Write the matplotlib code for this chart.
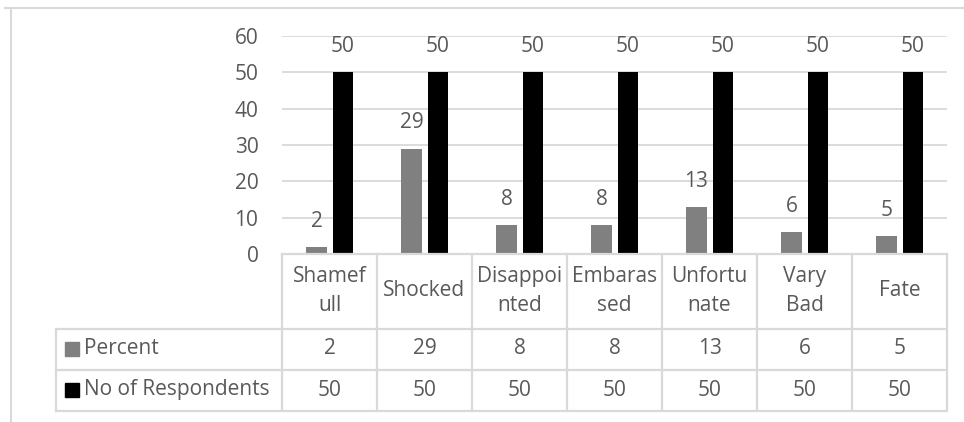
import numpy as np
import matplotlib
matplotlib.use("Agg")
from matplotlib import pyplot as plt
from matplotlib.lines import Line2D
from matplotlib.patches import Rectangle

plt.rcParams['font.family'] = ['Open Sans', 'DejaVu Sans']
plt.rcParams['font.size'] = 15

categories = ["Shamef\null", "Shocked", "Disappoi\nnted", "Embaras\nsed",
              "Unfortu\nnate", "Vary\nBad", "Fate"]
percent = [2, 29, 8, 8, 13, 6, 5]
respondents = [50, 50, 50, 50, 50, 50, 50]
series_names = ["Percent", "No of Respondents"]
series_colors = ["#808080", "#000000"]
yticks = [0, 10, 20, 30, 40, 50, 60]

TXT = "#595959"
GRID = "#d9d9d9"
W, H = 964, 422


def fbox(x0, y0, x1, y1):
    # pixel box (top-left origin) -> figure fraction rect
    return [x0 / W, (H - y1) / H, (x1 - x0) / W, (y1 - y0) / H]


fig = plt.figure(figsize=(W / 100, H / 100), dpi=100)

# outer frame
fig.add_artist(Line2D([5 / W, 1], [1 - 7.5 / H] * 2, color=GRID, lw=1.5))
fig.add_artist(Line2D([11 / W] * 2, [0, 1 - 7.5 / H], color=GRID, lw=1.5))

# bar chart
ax = fig.add_axes(fbox(282, 36, 947, 254))
n = len(categories)
x = np.arange(n) + 0.5
ax.set_xlim(0, n)
ax.set_ylim(0, 60)
ax.bar(x - 0.137, percent, width=0.22, color=series_colors[0], zorder=3)
ax.bar(x + 0.142, respondents, width=0.22, color=series_colors[1], zorder=3)
for xi, v in zip(x - 0.137, percent):
    ax.annotate(str(v), (xi, v), xytext=(0, 18.5), textcoords="offset points",
                ha="center", va="center", color=TXT)
for xi, v in zip(x + 0.142, respondents):
    ax.annotate(str(v), (xi, v), xytext=(0, 18.5), textcoords="offset points",
                ha="center", va="center", color=TXT)
ax.set_yticks(yticks)
ax.set_xticks([])
ax.tick_params(axis="y", length=0, pad=17, labelcolor=TXT)
ax.grid(axis="y", color=GRID, lw=1.3, zorder=0)
for s in ax.spines.values():
    s.set_visible(False)

# data table under the chart
tax = fig.add_axes(fbox(56, 254, 947, 412))
xl = -(282 - 56) / 95
tax.set_xlim(xl, n)
tax.set_ylim(412, 254)
tax.axis("off")
lkw = dict(color=GRID, lw=1.6, clip_on=False)
tax.plot([0, n], [254, 254], **lkw)
for yy in (329, 370, 411):
    tax.plot([xl, n], [yy, yy], **lkw)
for i in range(n + 1):
    tax.plot([i, i], [254, 411], **lkw)
tax.plot([xl, xl], [329, 411], **lkw)

for i, c in enumerate(categories):
    tax.text(i + 0.5, 291, c, ha="center", va="center", color=TXT,
             linespacing=1.45)
rows = [(percent, 349), (respondents, 390)]
for (vals, yy), name, col in zip(rows, series_names, series_colors):
    tax.add_patch(Rectangle((xl + 9 / 95, yy - 7), 14 / 95, 14, color=col,
                            clip_on=False))
    tax.text(xl + 28 / 95, yy, name, ha="left", va="center", color=TXT)
    for i, v in enumerate(vals):
        tax.text(i + 0.5, yy, str(v), ha="center", va="center", color=TXT)

fig.savefig("out.png", dpi=100)
